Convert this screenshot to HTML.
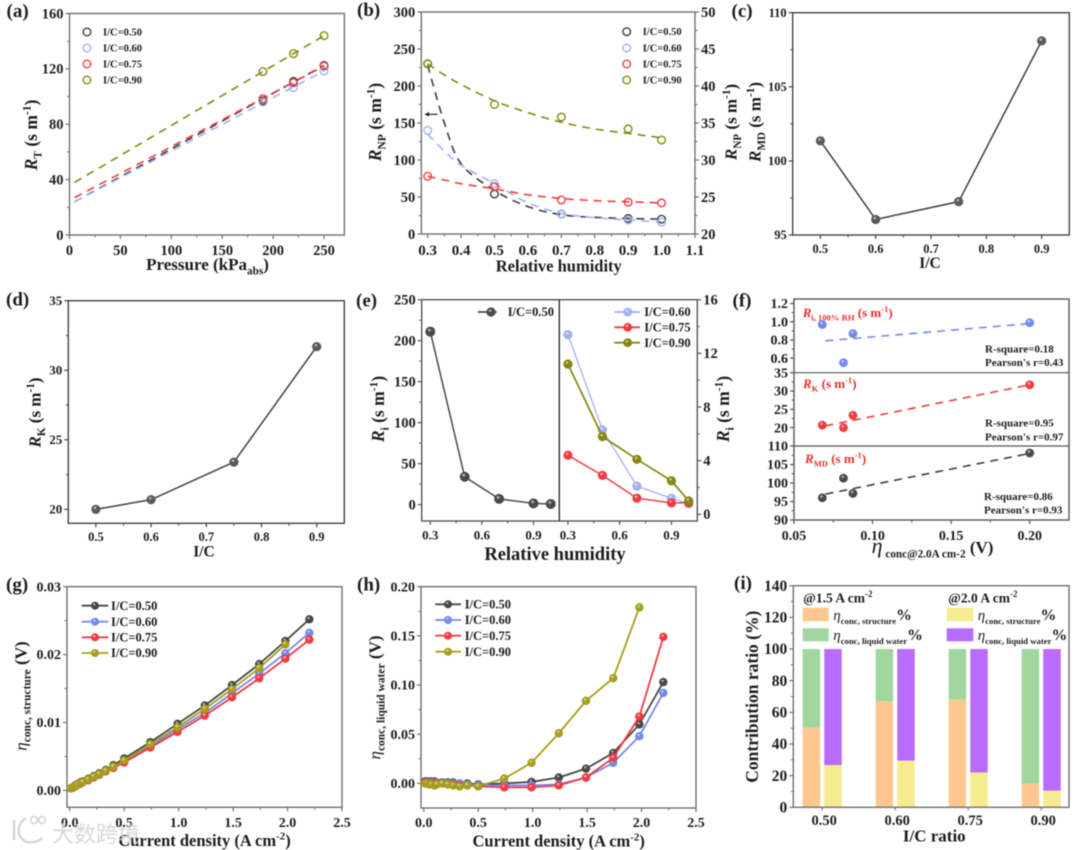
<!DOCTYPE html>
<html lang="en">
<head>
<meta charset="utf-8">
<title>Transport resistance and concentration overpotential charts</title>
<style>
html,body{margin:0;padding:0;background:#fff;width:1080px;height:850px;overflow:hidden}
svg{display:block;filter:blur(0.45px)}
text{font-family:"Liberation Serif","Noto Sans CJK SC",serif;font-weight:bold;fill:#1c1c1c}
</style>
</head>
<body>
<svg id="chart" xmlns="http://www.w3.org/2000/svg" width="1080" height="850" viewBox="0 0 1080 850"></svg>
<script>
// ---------- panel (a) ----------
const aXTicks = ['0','50','100','150','200','250'];
const aYTicks = ['0','40','80','120','160'];
const aPressure = [190,220,250];
const aR50 = [97,111,122.5];
const aR60 = [96,106.5,118.5];
const aR75 = [98.5,110,122];
const aR90 = [118,131,144];
const aFitX = [5,250];
const aFit50 = [24,122.5];
const aFit60 = [24,118.5];
const aFit75 = [27,122];
const aFit90 = [38,144];
// ---------- panel (b) ----------
const bXTicks = ['0.3','0.4','0.5','0.6','0.7','0.8','0.9','1.0','1.1'];
const bYTicks = ['0','50','100','150','200','250','300'];
const bY2Ticks = ['20','25','30','35','40','45','50'];
const bRH = [0.3,0.5,0.7,0.9,1.0];
const bR50 = [230,54,27,21,20];
const bR60 = [140,68,27,19,16];
const bR75 = [78,64,46,43,42];
const bR90 = [43,37.5,35.8,34.2,32.7];
const bFitX = [0.3,0.35,0.4,0.5,0.6,0.7,0.8,0.9,1.0];
const bFit50 = [228,150,95,59,37,26,22.5,21,20];
const bFit60 = [135,112,93,68,42,28,22,19,16];
const bFit75 = [78,73,68,61,53,48,45,43.5,42];
const bFit90 = [43,41.5,40.2,38,36.4,35.1,34.2,33.6,33];
// ---------- panel (c) & (d) ----------
const icValues = [0.5,0.6,0.75,0.9];
const cdXTicks = ['0.5','0.6','0.7','0.8','0.9'];
const cYTicks = ['95','100','105','110'];
const cRMD = [101.35,96.05,97.25,108.1];
const dYTicks = ['20','25','30','35'];
const dRK = [20,20.7,23.4,31.7];
// ---------- panel (e) ----------
const eXTicks = ['0.3','0.6','0.9'];
const eYTicks = ['0','50','100','150','200','250'];
const eY2Ticks = ['0','4','8','12','16'];
const eRH = [0.3,0.5,0.7,0.9,1.0];
const eR50 = [211,34,7,1.5,0.8];
const eR60 = [13.4,6.3,2.1,1.2,0.8];
const eR75 = [4.4,2.9,1.2,0.85,0.85];
const eR90 = [11.2,5.8,4.1,2.5,1.0];
// ---------- panel (f) ----------
const fXTicks = ['0.05','0.10','0.15','0.20'];
const fY1Ticks = ['0.6','0.8','1.0','1.2'];
const fY2Ticks = ['20','25','30','35'];
const fY3Ticks = ['90','95','100','105','110'];
const fEta = [0.068,0.0815,0.0875,0.2];
const fRi = [0.97,0.55,0.87,0.99];
const fRK = [20.7,20,23.4,31.7];
const fRMD = [96,101.3,97.2,108.1];
const fFitX = [0.07,0.2];
const fFitRi = [0.79,0.98];
const fFitRK = [20.5,31.7];
const fFitRMD = [97,108];
// ---------- panel (g) & (h) ----------
const ghXTicks = ['0.0','0.5','1.0','1.5','2.0','2.5'];
const gYTicks = ['0.00','0.01','0.02','0.03'];
const hYTicks = ['0.00','0.05','0.10','0.15','0.20'];
const current = [0.01,0.03,0.05,0.07,0.1,0.12,0.17,0.22,0.27,0.33,0.4,0.5,0.74,0.99,1.24,1.49,1.74,1.98,2.2];
const currentShort = [0.01,0.03,0.05,0.07,0.1,0.12,0.17,0.22,0.27,0.33,0.4,0.5,0.74,0.99,1.24,1.49,1.74,1.98];
const g50 = [.0003,.0005,.0007,.0009,.0012,.0013,.0017,.0021,.0025,.003,.0037,.0047,.0071,.0098,.0125,.0155,.0186,.022,.0252];
const g60 = [.0003,.0005,.0006,.0008,.0011,.0012,.0015,.0019,.0023,.0028,.0034,.0043,.0065,.009,.0114,.0143,.0172,.0202,.0232];
const g75 = [.0003,.0004,.0006,.0008,.001,.0012,.0015,.0019,.0023,.0028,.0033,.0041,.0063,.0086,.011,.0137,.0165,.0194,.0222];
const g90 = [.0003,.0005,.0006,.0008,.0011,.0012,.0016,.002,.0024,.0029,.0035,.0044,.0068,.0093,.012,.0149,.018,.0215];
const h50 = [.002,.002,.002,.002,.002,.001,.001,.001,.001,0,0,-.001,0,.0015,.006,.015,.031,.06,.103];
const h60 = [.001,.001,.001,.001,.001,.001,0,0,0,0,-.001,-.002,-.002,-.002,-.001,.006,.021,.048,.092];
const h75 = [.001,.001,0,0,0,0,0,-.001,-.001,-.002,-.002,-.003,-.004,-.004,-.002,.006,.026,.068,.149];
const h90 = [0,0,-.001,-.001,-.002,-.001,0,-.001,-.002,-.003,-.002,-.003,.005,.021,.051,.084,.107,.179];
// ---------- panel (i) ----------
const iCategories = ['0.50','0.60','0.75','0.90'];
const iYTicks = ['0','20','40','60','80','100','120','140'];
const iStructure15 = [50.3,67,68,15];
const iStructure20 = [26.7,29.5,22,10.5];
const iTotal = [100,100,100,100];

const svg = document.getElementById('chart');
const NS = 'http://www.w3.org/2000/svg';
const defs = document.createElementNS(NS,'defs');
svg.appendChild(defs);

const BLACK='#3d3d3d', BLUE='#7488ee', LBLUE='#a3b1f2', RED='#f03c40', OLIVE='#868610', YOLIVE='#a69e1c';

function add(parent, tag, attrs, name, text){
  const e = document.createElementNS(NS,tag);
  for(const k in attrs){ e.setAttribute(k, attrs[k]); }
  
  
  if(text!==undefined){ e.textContent = text; }
  parent.appendChild(e);
  return e;
}
function scale(d0,d1,r0,r1){ return v => r0 + (v-d0)*(r1-r0)/(d1-d0); }

function darken(hex){
  const n=parseInt(hex.length===4?hex[1]+hex[1]+hex[2]+hex[2]+hex[3]+hex[3]:hex.slice(1),16);
  const f=0.72;
  const ch=s=>Math.round(((n>>s)&255)*f).toString(16).padStart(2,'0');
  return '#'+ch(16)+ch(8)+ch(0);
}
let gradCount = 0;
const gradCache = {};
function sphere(color){
  if(gradCache[color]) return gradCache[color];
  const id = 'sph'+(gradCount++);
  const g = document.createElementNS(NS,'radialGradient');
  g.setAttribute('id',id);
  g.setAttribute('cx','0.5'); g.setAttribute('cy','0.5'); g.setAttribute('r','0.55');
  g.setAttribute('fx','0.38'); g.setAttribute('fy','0.3');
  [['0%','#f4f4f4'],['35%',color],['85%',color],['100%',darken(color)]].forEach(s=>{
    const st=document.createElementNS(NS,'stop');
    st.setAttribute('offset',s[0]); st.setAttribute('stop-color',s[1]);
    g.appendChild(st);
  });
  defs.appendChild(g);
  gradCache[color]='url(#'+id+')';
  return gradCache[color];
}

function rich(parent,x,y,parts,fs,opts,name){
  opts = opts||{};
  const attrs = {x:x,y:y,'font-size':fs,'text-anchor':opts.anchor||'middle'};
  if(opts.rotate){ attrs.transform='rotate(-90 '+x+' '+y+')'; }
  if(opts.fill){ attrs.style='fill:'+opts.fill; }
  const t = add(parent,'text',attrs,name);
  let cur=0;
  parts.forEach(p=>{
    const ts=document.createElementNS(NS,'tspan');
    const kind=p[1]||'';
    let off=0, size=fs;
    if(kind.indexOf('sub')>=0){ off=fs*0.26; size=fs*(opts.subScale||0.66); }
    if(kind.indexOf('sup')>=0){ off=-fs*0.38; size=fs*0.66; }
    if(kind.indexOf('big')>=0){ size=fs*(opts.bigScale||1.25); }
    ts.setAttribute('dy',off-cur); cur=off;
    ts.setAttribute('font-size',size);
    if(kind.indexOf('i')===0){ ts.setAttribute('font-style','italic'); }
    if(kind.indexOf('eta')===0){
      ts.setAttribute('font-style','italic');
      ts.setAttribute('font-weight','normal');
    }
    if(opts.fill){ ts.setAttribute('style','fill:'+opts.fill); }
    ts.textContent=p[0];
    t.appendChild(ts);
  });
  return t;
}

function frame(g,box,color,sw){
  add(g,'rect',{x:box.l,y:box.t,width:box.r-box.l,height:box.b-box.t,fill:'none',stroke:color,'stroke-width':sw||1.4},'plot-frame');
}
function xAxis(g,xS,labels,y,base,fs,color,minor){
  const nums = labels.map(parseFloat);
  nums.forEach((v,i)=>{
    add(g,'line',{x1:xS(v),x2:xS(v),y1:y,y2:y+4,stroke:color,'stroke-width':1.2},'x-tick');
    add(g,'text',{x:xS(v),y:base,'font-size':fs,'text-anchor':'middle'},'x-tick-label',labels[i]);
    if(minor!==false && i<nums.length-1){
      const m=(v+nums[i+1])/2;
      add(g,'line',{x1:xS(m),x2:xS(m),y1:y,y2:y+2.5,stroke:color,'stroke-width':1},'x-minor-tick');
    }
  });
}
function yAxis(g,yS,labels,x,fs,color,side,skipMinor,skipLabel){
  const nums = labels.map(parseFloat);
  const dir = side==='right'?1:-1;
  const anchor = side==='right'?'start':'end';
  nums.forEach((v,i)=>{
    add(g,'line',{x1:x,x2:x+dir*4,y1:yS(v),y2:yS(v),stroke:color,'stroke-width':1.2},'y-tick');
    if(!(skipLabel&&skipLabel(labels[i]))){
      add(g,'text',{x:x+dir*6,y:yS(v)+fs*0.33,'font-size':fs,'text-anchor':anchor},'y-tick-label',labels[i]);
    }
    if(!skipMinor && i<nums.length-1){
      const m=(v+nums[i+1])/2;
      add(g,'line',{x1:x,x2:x+dir*2.5,y1:yS(m),y2:yS(m),stroke:color,'stroke-width':1},'y-minor-tick');
    }
  });
}
function straight(xs,ys,xS,yS){
  return xs.map((v,i)=>(i?'L':'M')+xS(v).toFixed(2)+' '+yS(ys[i]).toFixed(2)).join(' ');
}
function smooth(xs,ys,xS,yS){
  const p = xs.map((v,i)=>[xS(v),yS(ys[i])]);
  let d='M'+p[0][0].toFixed(2)+' '+p[0][1].toFixed(2);
  for(let i=0;i<p.length-1;i++){
    const a=p[Math.max(i-1,0)],b=p[i],c=p[i+1],e=p[Math.min(i+2,p.length-1)];
    d+=' C'+(b[0]+(c[0]-a[0])/6).toFixed(2)+' '+(b[1]+(c[1]-a[1])/6).toFixed(2)+' '+
       (c[0]-(e[0]-b[0])/6).toFixed(2)+' '+(c[1]-(e[1]-b[1])/6).toFixed(2)+' '+
       c[0].toFixed(2)+' '+c[1].toFixed(2);
  }
  return d;
}
function dashed(g,d,color,name){
  add(g,'path',{d:d,fill:'none',stroke:color,'stroke-width':1.6,'stroke-dasharray':'8 6'},name);
}
function openPts(g,xs,ys,xS,yS,color,name){
  xs.forEach((v,i)=>{
    add(g,'circle',{cx:xS(v),cy:yS(ys[i]),r:3.8,fill:'none',stroke:color,'stroke-width':1.4},name);
  });
}
function solidSeries(g,xs,ys,xS,yS,color,r,sw,name,lineColor){
  add(g,'path',{d:straight(xs,ys,xS,yS),fill:'none',stroke:lineColor||color,'stroke-width':sw},name+'-line');
  xs.forEach((v,i)=>{
    add(g,'circle',{cx:xS(v),cy:yS(ys[i]),r:r,fill:sphere(color)},name+'-point');
  });
}
function panelLabel(g,x,y,t){
  add(g,'text',{x:x,y:y,'font-size':19},'panel-label',t);
}
function openLegend(g,x,tx,ys,fs){
  [['I/C=0.50',BLACK],['I/C=0.60',LBLUE],['I/C=0.75',RED],['I/C=0.90',OLIVE]].forEach((e,i)=>{
    const le=add(g,'g',{},'legend-entry');
    add(le,'circle',{cx:x,cy:ys[i],r:3.8,fill:'none',stroke:e[1],'stroke-width':1.4},'legend-marker');
    add(le,'text',{x:tx,y:ys[i]+3.5,'font-size':fs},'legend-label',e[0]);
  });
}
function lineLegendEntry(g,x1,x2,mx,tx,y,fs,label,color,r,lineColor){
  const le=add(g,'g',{},'legend-entry');
  add(le,'line',{x1:x1,x2:x2,y1:y,y2:y,stroke:lineColor||color,'stroke-width':1.8},'legend-line');
  add(le,'circle',{cx:mx,cy:y,r:r,fill:sphere(color)},'legend-marker');
  add(le,'text',{x:tx,y:y+4.2,'font-size':fs},'legend-label',label);
}
const RS=[[' (s m'],['-1','sup'],[')']];

// ---------- (a) ----------
(function(){
  const g=add(svg,'g',{},'panel-a');
  const box={l:69.5,r:344.4,t:13.5,b:235};
  const xS=scale(0,270,box.l,box.r), yS=scale(0,160,box.b,box.t), c='#707070';
  frame(g,box,c);
  xAxis(g,xS,aXTicks,box.b,255,14.5,c);
  yAxis(g,yS,aYTicks,box.l,14.5,c);
  panelLabel(g,6.5,17,'(a)');
  dashed(g,straight(aFitX,aFit50,xS,yS),BLACK,'fit-line-ic-050');
  dashed(g,straight(aFitX,aFit60,xS,yS),LBLUE,'fit-line-ic-060');
  dashed(g,straight(aFitX,aFit75,xS,yS),RED,'fit-line-ic-075');
  dashed(g,straight(aFitX,aFit90,xS,yS),OLIVE,'fit-line-ic-090');
  openPts(g,aPressure,aR50,xS,yS,BLACK,'point-ic-050');
  openPts(g,aPressure,aR60,xS,yS,LBLUE,'point-ic-060');
  openPts(g,aPressure,aR75,xS,yS,RED,'point-ic-075');
  openPts(g,aPressure,aR90,xS,yS,OLIVE,'point-ic-090');
  openLegend(g,87,103,[32,48,64,80],10.5);
  rich(g,37,135,[['R','i'],['T','sub'],...RS],17.5,{rotate:1},'y-axis-title');
  rich(g,207.5,270,[['Pressure (kPa'],['abs','sub'],[')']],17,{},'x-axis-title');
})();

// ---------- (b) ----------
(function(){
  const g=add(svg,'g',{},'panel-b');
  const box={l:421.3,r:695,t:12,b:234};
  const xS=scale(0.281,1.1,box.l,box.r), yS=scale(0,300,box.b,box.t), y2=scale(20,50,box.b,box.t), c='#707070';
  frame(g,box,c);
  xAxis(g,xS,bXTicks,box.b,255,15,c);
  yAxis(g,yS,bYTicks,box.l,14.5,c);
  yAxis(g,y2,bY2Ticks,box.r,14.5,c,'right');
  panelLabel(g,357,16,'(b)');
  dashed(g,smooth(bFitX,bFit50,xS,yS),BLACK,'fit-curve-ic-050');
  dashed(g,smooth(bFitX,bFit60,xS,yS),LBLUE,'fit-curve-ic-060');
  dashed(g,smooth(bFitX,bFit75,xS,yS),RED,'fit-curve-ic-075');
  dashed(g,smooth(bFitX,bFit90,xS,y2),OLIVE,'fit-curve-ic-090');
  openPts(g,bRH,bR50,xS,yS,BLACK,'point-ic-050');
  openPts(g,bRH,bR60,xS,yS,LBLUE,'point-ic-060');
  openPts(g,bRH,bR75,xS,yS,RED,'point-ic-075');
  openPts(g,bRH,bR90,xS,y2,OLIVE,'point-ic-090');
  add(g,'line',{x1:437.5,x2:428,y1:114.3,y2:114.3,stroke:'#222','stroke-width':1.2},'axis-arrow-shaft');
  add(g,'path',{d:'M424.5 114.3 L429 112 L429 116.6 Z',fill:'#222'},'axis-arrow-head');
  openLegend(g,626.7,642.7,[31.7,48,64,80],10.5);
  rich(g,381,122,[['R','i'],['NP','sub'],...RS],17.5,{rotate:1},'y-axis-title');
  add(g,'text',{x:558.8,y:271.5,'font-size':16.5,'text-anchor':'middle'},'x-axis-title','Relative humidity');
})();

// ---------- (c) ----------
(function(){
  const g=add(svg,'g',{},'panel-c');
  const box={l:792.7,r:1069.3,t:12.7,b:235};
  const xS=scale(.45,.95,box.l,box.r), yS=scale(95,110,box.b,box.t), c='#444';
  frame(g,box,c);
  xAxis(g,xS,cdXTicks,box.b,253,12.5,c);
  yAxis(g,yS,cYTicks,box.l,12.5,c);
  panelLabel(g,731.5,17,'(c)');
  solidSeries(g,icValues,cRMD,xS,yS,'#5a5a5a',4.6,1.5,'rmd-series','#3d3d3d');
  rich(g,736.7,122,[['R','i'],['NP','sub'],...RS],17,{rotate:1},'y-axis-title-rnp');
  rich(g,760.7,122,[['R','i'],['MD','sub'],...RS],17,{rotate:1},'y-axis-title-rmd');
  add(g,'text',{x:930,y:268,'font-size':15.5,'text-anchor':'middle'},'x-axis-title','I/C');
})();

// ---------- (d) ----------
(function(){
  const g=add(svg,'g',{},'panel-d');
  const box={l:68.3,r:344.3,t:300.7,b:523.3};
  const xS=scale(.45,.95,box.l,box.r), yS=scale(19,35,box.b,box.t), c='#444';
  frame(g,box,c);
  xAxis(g,xS,cdXTicks,box.b,541,12.5,c);
  yAxis(g,yS,dYTicks,box.l,13,c);
  panelLabel(g,6,305.7,'(d)');
  solidSeries(g,icValues,dRK,xS,yS,'#5a5a5a',4.6,1.5,'rk-series','#3d3d3d');
  rich(g,40.7,412.5,[['R','i'],['K','sub'],[' '],...RS],17,{rotate:1},'y-axis-title');
  add(g,'text',{x:204,y:556.7,'font-size':15.5,'text-anchor':'middle'},'x-axis-title','I/C');
})();

// ---------- (e) ----------
(function(){
  const g=add(svg,'g',{},'panel-e');
  const box={l:421.7,r:697.3,t:299.7,b:521}, mid=559.3;
  const xL=scale(.25,1.05,box.l,mid), xR=scale(.25,1.05,mid,box.r);
  const yL=scale(-20,250,box.b,box.t), yR=scale(-.5,16,box.b,box.t), c='#555';
  frame(g,box,c);
  add(g,'line',{x1:mid,x2:mid,y1:box.t,y2:box.b,stroke:'#222','stroke-width':1.3},'panel-divider');
  xAxis(g,xL,eXTicks,box.b,539.5,13,c);
  xAxis(g,xR,eXTicks,box.b,539.5,13,c);
  yAxis(g,yL,eYTicks,box.l,14.5,c);
  yAxis(g,yR,eY2Ticks,box.r,14.5,c,'right');
  panelLabel(g,356,306.7,'(e)');
  solidSeries(g,eRH,eR50,xL,yL,'#4a4a4a',5,1.5,'ri-ic-050');
  solidSeries(g,eRH,eR60,xR,yR,LBLUE,4.6,1.3,'ri-ic-060');
  solidSeries(g,eRH,eR75,xR,yR,RED,4.6,1.5,'ri-ic-075');
  solidSeries(g,eRH,eR90,xR,yR,OLIVE,4.6,1.7,'ri-ic-090');
  lineLegendEntry(g,477.7,496.7,491,507.7,312,12.5,'I/C=0.50','#4a4a4a',4.6);
  lineLegendEntry(g,614.3,640,627.7,644.3,312,12.5,'I/C=0.60',LBLUE,4.4);
  lineLegendEntry(g,614.3,640,627.7,644.3,327.3,12.5,'I/C=0.75',RED,4.4);
  lineLegendEntry(g,614.3,640,627.7,644.3,342.7,12.5,'I/C=0.90',OLIVE,4.4);
  rich(g,384,409,[['R','i'],['i','sub'],...RS],17.5,{rotate:1},'y-axis-title-left');
  rich(g,729,409,[['R','i'],['i','sub'],...RS],17.5,{rotate:1},'y-axis-title-right');
  add(g,'text',{x:555,y:560,'font-size':18.5,'text-anchor':'middle'},'x-axis-title','Relative humidity');
})();

// ---------- (f) ----------
(function(){
  const g=add(svg,'g',{},'panel-f');
  const box={l:794,r:1069,t:299,b:520}, d1=372.7, d2=446, c='#555';
  const xS=scale(.05,.225,box.l,box.r);
  const y1=scale(.44,1.25,d1,box.t), y2=scale(15,35,d2,d1), y3=scale(90,110,box.b,d2);
  frame(g,box,c);
  add(g,'line',{x1:box.l,x2:box.r,y1:d1,y2:d1,stroke:c,'stroke-width':1.2},'panel-divider-upper');
  add(g,'line',{x1:box.l,x2:box.r,y1:d2,y2:d2,stroke:c,'stroke-width':1.2},'panel-divider-lower');
  xAxis(g,xS,fXTicks,box.b,540,14,c);
  yAxis(g,y1,fY1Ticks,box.l,14,c);
  yAxis(g,y2,fY2Ticks,box.l,14,c);
  yAxis(g,y3,fY3Ticks,box.l,14,c);
  panelLabel(g,732.5,306.7,'(f)');
  dashed(g,straight(fFitX,fFitRi,xS,y1),BLUE,'fit-line-ri');
  dashed(g,straight(fFitX,fFitRK,xS,y2),RED,'fit-line-rk');
  dashed(g,straight(fFitX,fFitRMD,xS,y3),BLACK,'fit-line-rmd');
  fEta.forEach((v,i)=>{
    add(g,'circle',{cx:xS(v),cy:y1(fRi[i]),r:4.4,fill:sphere(BLUE)},'point-ri');
  });
  fEta.forEach((v,i)=>{
    add(g,'circle',{cx:xS(v),cy:y2(fRK[i]),r:4.4,fill:sphere(RED)},'point-rk');
  });
  fEta.forEach((v,i)=>{
    add(g,'circle',{cx:xS(v),cy:y3(fRMD[i]),r:4.4,fill:sphere('#4a4a4a')},'point-rmd');
  });
  const red='#e8302c';
  rich(g,802.7,317,[['R','i'],['i, 100% RH','sub'],...RS],13,{anchor:'start',fill:red},'ri-series-label');
  rich(g,803,388,[['R','i'],['K','sub'],...RS],13,{anchor:'start',fill:red},'rk-series-label');
  rich(g,805,463,[['R','i'],['MD','sub'],...RS],13,{anchor:'start',fill:red},'rmd-series-label');
  add(g,'text',{x:985,y:352.7,'font-size':11},'r-square-ri','R-square=0.18');
  add(g,'text',{x:985,y:366,'font-size':11},'pearson-ri',"Pearson's r=0.43");
  add(g,'text',{x:985,y:426.7,'font-size':11},'r-square-rk','R-square=0.95');
  add(g,'text',{x:985,y:440.6,'font-size':11},'pearson-rk',"Pearson's r=0.97");
  add(g,'text',{x:984,y:500,'font-size':11},'r-square-rmd','R-square=0.86');
  add(g,'text',{x:984,y:513.5,'font-size':11},'pearson-rmd',"Pearson's r=0.93");
  rich(g,932.5,553,[['η','eta big'],[' conc@2.0A cm-2','sub'],[' (V)']],17,{subScale:0.66,bigScale:1.3},'x-axis-title');
})();

// ---------- (g) ----------
(function(){
  const g=add(svg,'g',{},'panel-g');
  const box={l:67,r:342,t:586.7,b:807.3};
  const xS=scale(-.025,2.5,box.l,box.r), yS=scale(-.0025,.03,box.b,box.t), c='#707070';
  frame(g,box,c);
  xAxis(g,xS,ghXTicks,box.b,827,14,c);
  yAxis(g,yS,gYTicks,box.l,14,c);
  panelLabel(g,6,590.7,'(g)');
  solidSeries(g,current,g50,xS,yS,'#474747',4.2,1.8,'structure-ic-050');
  solidSeries(g,current,g60,xS,yS,BLUE,4.2,1.8,'structure-ic-060');
  solidSeries(g,current,g75,xS,yS,RED,4.2,1.8,'structure-ic-075');
  solidSeries(g,currentShort,g90,xS,yS,YOLIVE,4.2,1.8,'structure-ic-090');
  lineLegendEntry(g,81.7,108.3,95,111,605.7,12.5,'I/C=0.50','#474747',4);
  lineLegendEntry(g,81.7,108.3,95,111,621.7,12.5,'I/C=0.60',BLUE,4);
  lineLegendEntry(g,81.7,108.3,95,111,637.3,12.5,'I/C=0.75',RED,4);
  lineLegendEntry(g,81.7,108.3,95,111,653,12.5,'I/C=0.90',YOLIVE,4);
  rich(g,26.7,696,[['η','eta big'],['conc, structure','sub'],[' (V)','big']],14,{rotate:1,subScale:0.82,bigScale:1.22},'y-axis-title');
  rich(g,204.5,846,[['Current density (A cm'],['-2','sup'],[')']],16.5,{},'x-axis-title');
})();

// ---------- (h) ----------
(function(){
  const g=add(svg,'g',{},'panel-h');
  const box={l:421,r:696,t:586.7,b:808};
  const xS=scale(-.025,2.5,box.l,box.r), yS=scale(-.025,.2,box.b,box.t), c='#707070';
  frame(g,box,c);
  xAxis(g,xS,ghXTicks,box.b,827,14,c);
  yAxis(g,yS,hYTicks,box.l,14,c);
  panelLabel(g,357,590.7,'(h)');
  solidSeries(g,current,h50,xS,yS,'#474747',4.2,1.8,'liquid-ic-050');
  solidSeries(g,current,h60,xS,yS,BLUE,4.2,1.8,'liquid-ic-060');
  solidSeries(g,current,h75,xS,yS,RED,4.2,1.8,'liquid-ic-075');
  solidSeries(g,currentShort,h90,xS,yS,YOLIVE,4.2,1.8,'liquid-ic-090');
  lineLegendEntry(g,435.3,461,448,464.7,604.3,12.5,'I/C=0.50','#474747',4);
  lineLegendEntry(g,435.3,461,448,464.7,620,12.5,'I/C=0.60',BLUE,4);
  lineLegendEntry(g,435.3,461,448,464.7,635.7,12.5,'I/C=0.75',RED,4);
  lineLegendEntry(g,435.3,461,448,464.7,651.7,12.5,'I/C=0.90',YOLIVE,4);
  rich(g,380.7,697.5,[['η','eta big'],['conc, liquid water','sub'],[' (V)','big']],14,{rotate:1,subScale:0.82,bigScale:1.22},'y-axis-title');
  rich(g,558.7,846.7,[['Current density (A cm'],['-2','sup'],[')']],16.5,{},'x-axis-title');
})();

// ---------- (i) ----------
(function(){
  const g=add(svg,'g',{},'panel-i');
  const box={l:793.3,r:1069,t:585.7,b:807.3}, c='#707070';
  const yS=scale(0,140,box.b,box.t);
  const band=i=>822.2+i*73;
  const colors={o:'#fdc78f',y:'#f5ec8f',g:'#9fd79f',p:'#b96cfb'};
  const barW=17.5, off=10.8;
  iCategories.forEach((cat,i)=>{
    const x1=band(i)-off-barW/2, x2=band(i)+off-barW/2;
    add(g,'rect',{x:x1,y:yS(iStructure15[i]),width:barW,height:box.b-yS(iStructure15[i]),fill:colors.o},'bar-structure-1-5');
    add(g,'rect',{x:x1,y:yS(iTotal[i]),width:barW,height:yS(iStructure15[i])-yS(iTotal[i]),fill:colors.g},'bar-liquid-water-1-5');
    add(g,'rect',{x:x2,y:yS(iStructure20[i]),width:barW,height:box.b-yS(iStructure20[i]),fill:colors.y},'bar-structure-2-0');
    add(g,'rect',{x:x2,y:yS(iTotal[i]),width:barW,height:yS(iStructure20[i])-yS(iTotal[i]),fill:colors.p},'bar-liquid-water-2-0');
    add(g,'text',{x:band(i)+2,y:825,'font-size':14.5,'text-anchor':'middle'},'x-tick-label',cat);
    add(g,'line',{x1:band(i),x2:band(i),y1:box.b,y2:box.b+3,stroke:c,'stroke-width':1.1},'x-tick');
  });
  frame(g,box,c);
  yAxis(g,yS,iYTicks,box.l,15.5,c);
  panelLabel(g,734,589,'(i)');
  rich(g,803.3,602.3,[['@1.5 A cm'],['-2','sup']],13.5,{anchor:'start'},'legend-heading-1-5');
  rich(g,948.3,602.3,[['@2.0 A cm'],['-2','sup']],13.5,{anchor:'start'},'legend-heading-2-0');
  add(g,'rect',{x:802.7,y:607.7,width:26,height:13.5,fill:colors.o},'legend-swatch-structure-1-5');
  add(g,'rect',{x:802.7,y:628.3,width:26,height:13,fill:colors.g},'legend-swatch-liquid-1-5');
  add(g,'rect',{x:946.7,y:607.7,width:26.6,height:13.5,fill:colors.y},'legend-swatch-structure-2-0');
  add(g,'rect',{x:946.7,y:628.3,width:26.6,height:13,fill:colors.p},'legend-swatch-liquid-2-0');
  const s=[['η','eta'],['conc, structure','sub'],['%','big']], w=[['η','eta'],['conc, liquid water','sub'],['%','big']];
  const o={anchor:'start',subScale:0.58,bigScale:1.05};
  rich(g,833.3,620,s,15,o,'legend-label-structure-1-5');
  rich(g,833.3,640,w,15,o,'legend-label-liquid-1-5');
  rich(g,977.7,620,s,15,o,'legend-label-structure-2-0');
  rich(g,977.7,640,w,15,o,'legend-label-liquid-2-0');
  add(g,'text',{x:758,y:696.7,'font-size':17.5,'text-anchor':'middle',transform:'rotate(-90 758 696.7)'},'y-axis-title','Contribution ratio (%)');
  add(g,'text',{x:934.3,y:841.7,'font-size':17,'text-anchor':'middle'},'x-axis-title','I/C ratio');
})();

// ---------- watermark ----------
(function(){
  const g=add(svg,'g',{opacity:0.9},'watermark');
  add(g,'path',{d:'M14 820 L14 840 M26 818 C16 824 16 838 27 842 C32 843 38 842 42 838',fill:'none',stroke:'#d0d0d0','stroke-width':2.4},'watermark-logo-mark');
  add(g,'circle',{cx:34,cy:820,r:3.4,fill:'none',stroke:'#d0d0d0','stroke-width':1.6},'watermark-logo-dot-left');
  add(g,'circle',{cx:42,cy:820,r:3.4,fill:'none',stroke:'#d0d0d0','stroke-width':1.6},'watermark-logo-dot-right');
  add(g,'text',{x:52,y:842,'font-size':22,style:'font-family:"Noto Sans CJK SC",sans-serif;font-weight:normal;fill:#d4d4d4'},'watermark-text','大数跨境');
})();
</script>
</body>
</html>
